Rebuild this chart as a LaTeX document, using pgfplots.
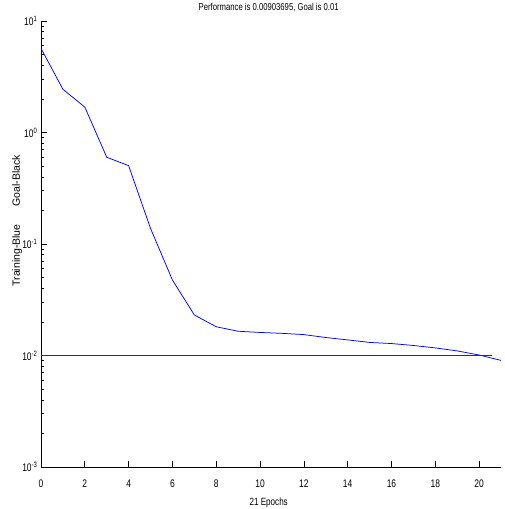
\documentclass[border=0pt]{standalone}
\usepackage{fontspec}
\setmainfont{Liberation Sans}[FakeStretch=0.77]
\newfontfamily\ylabfont{Liberation Sans}
\usepackage{pgfplots}
\pgfplotsset{compat=1.18}

\begin{document}
\begin{tikzpicture}
\begin{axis}[
  scale only axis, width=460pt, height=446pt,
  ymode=log, xmin=0, xmax=21, ymin=1e-3, ymax=10,
  axis x line*=bottom, axis y line*=left,
  axis line style={-, line width=0.9pt},
  tick style={black, line width=0.7pt},
  tick align=inside, major tick length=6pt, minor tick length=3.5pt,
  xtick={0,2,...,20},
  xticklabels={0,2,4,6,8,10,12,14,16,18,20},
  xticklabel style={font=\fontsize{11}{12}\selectfont, anchor=base, yshift=-20pt},
  ytick={0.001,0.01,0.1,1,10},
  yticklabels={10\textsuperscript{-3},10\textsuperscript{-2},10\textsuperscript{-1},10\textsuperscript{0},10\textsuperscript{1}},
  yticklabel style={font=\fontsize{11}{12}\selectfont},
  title={Performance is 0.00903695, Goal is 0.01},
  title style={font=\fontsize{10}{12}\selectfont, at={(axis description cs:0.495,1)}, anchor=base, yshift=5pt},
  xlabel={21 Epochs},
  xlabel style={font=\fontsize{10.5}{12}\selectfont, at={(axis description cs:0.495,0)}, anchor=base, yshift=-38pt},
  ylabel={\ylabfont\fontsize{10.5}{12}\selectfont Training-Blue\hspace{18pt}Goal-Black},
  ylabel style={at={(axis description cs:-0.052,0.552)}, anchor=center},
]
\addplot[blue, line width=0.75pt] coordinates {
  (0,5.69) (1,2.44) (2,1.69) (3,0.60) (4,0.504) (5,0.138) (6,0.0475)
  (7,0.0231) (8,0.0181) (9,0.0165) (10,0.0161) (11,0.0158) (12,0.0154)
  (13,0.0145) (14,0.0138) (15,0.0131) (16,0.0128) (17,0.0123) (18,0.0117)
  (19,0.0110) (20,0.0101) (21,0.00903695)
};
\addplot[black!80, line width=0.9pt] coordinates {(0,0.01) (20.6,0.01)};
\end{axis}
\pgfresetboundingbox
\path (-41pt,-42pt) rectangle (464pt,467pt);
\end{tikzpicture}
\end{document}
